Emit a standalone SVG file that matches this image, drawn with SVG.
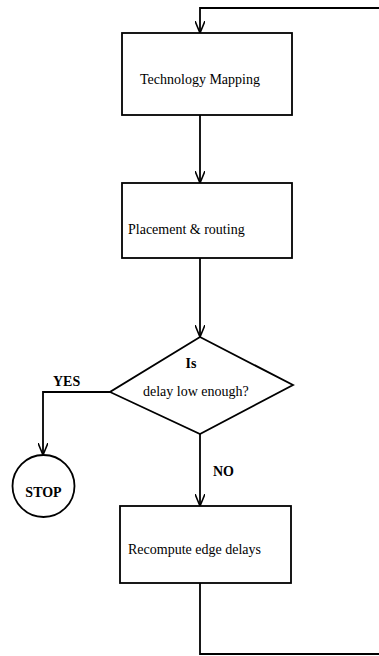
<svg xmlns="http://www.w3.org/2000/svg" width="379" height="656" viewBox="0 0 379 656">
<style>
.shape{fill:#fff;stroke:#000;stroke-width:1.8}
.line{fill:none;stroke:#000;stroke-width:1.8}
.t{font-family:"Liberation Serif","Times New Roman",serif;font-size:14px;fill:#000}
.b{font-weight:bold}
</style>
<defs>
<marker id="arr" viewBox="0 0 12 10" refX="12" refY="5" markerWidth="12" markerHeight="10" markerUnits="userSpaceOnUse" orient="auto">
<path d="M0,0 L12,5 L0,10" fill="none" stroke="#000" stroke-width="1.6"/>
</marker>
</defs>
<g id="connectors">
<path class="line" d="M379,8 L200,8 L200,33" marker-end="url(#arr)"/>
<path class="line" d="M200,115 L200,183" marker-end="url(#arr)"/>
<path class="line" d="M200,258 L200,337" marker-end="url(#arr)"/>
<path class="line" d="M110,392 L43,392 L43,455" marker-end="url(#arr)"/>
<path class="line" d="M200,434 L200,506" marker-end="url(#arr)"/>
<path class="line" d="M200,583 L200,654 L379,654"/>
<text class="t b" x="53" y="386">YES</text>
<text class="t b" x="213" y="476">NO</text>
</g>
<g id="tech-mapping">
<rect class="shape" x="122" y="33" width="170" height="82"/>
<text class="t" x="140" y="84">Technology Mapping</text>
</g>
<g id="placement-routing">
<rect class="shape" x="122" y="183" width="170" height="75"/>
<text class="t" x="128" y="234">Placement &amp; routing</text>
</g>
<g id="decision">
<polygon class="shape" points="200,337 293,385 200,434 110,392"/>
<text class="t b" x="191" y="368" text-anchor="middle">Is</text>
<text class="t" x="143" y="396">delay low enough?</text>
</g>
<g id="stop">
<circle class="shape" cx="43.5" cy="486" r="31"/>
<text class="t b" x="43.5" y="497" text-anchor="middle">STOP</text>
</g>
<g id="recompute">
<rect class="shape" x="120" y="506" width="171" height="77"/>
<text class="t" x="128" y="554">Recompute edge delays</text>
</g>
</svg>
